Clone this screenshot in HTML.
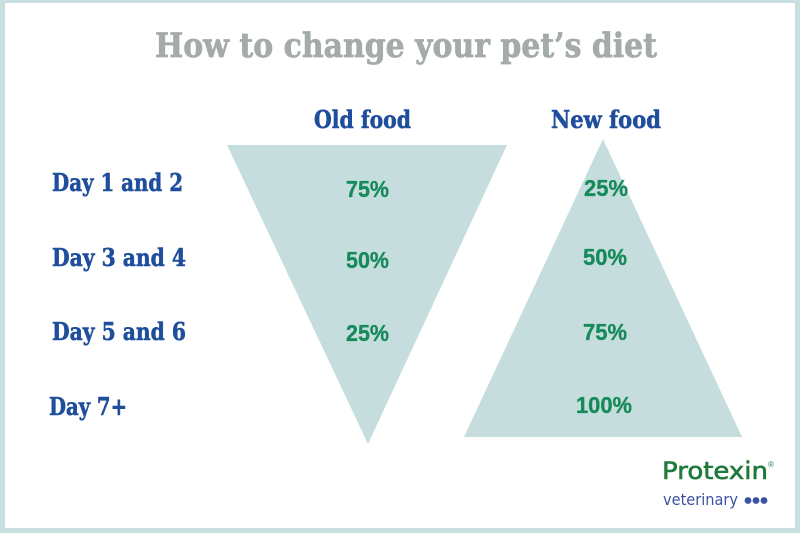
<!DOCTYPE html>
<html><head><meta charset="utf-8"><style>
html,body{margin:0;padding:0;background:#fff;}
svg{display:block;}
</style></head><body>
<svg width="800" height="533" viewBox="0 0 800 533" xmlns="http://www.w3.org/2000/svg">
<rect x="0" y="0" width="800" height="533" fill="#c8dfdf"/>
<rect x="5" y="3" width="790" height="525" fill="#ffffff"/>
<polygon points="227,145 507,145 368,444" fill="#c5dedd"/>
<polygon points="603,139 742,437 464,437" fill="#c5dedd"/>
<g font-family="'DejaVu Serif','Liberation Serif',serif" font-weight="bold">
<text x="155" y="57" font-size="34" fill="#a4abaa" stroke="#a4abaa" stroke-width="0.7" textLength="502" lengthAdjust="spacingAndGlyphs">How to change your pet’s diet</text>
<g fill="#1f4e9c" stroke="#1f4e9c" stroke-width="0.55" font-size="24">
<text x="314" y="128" textLength="97" lengthAdjust="spacingAndGlyphs">Old food</text>
<text x="551" y="128" textLength="110" lengthAdjust="spacingAndGlyphs">New food</text>
<text x="52" y="191" textLength="131" lengthAdjust="spacingAndGlyphs">Day 1 and 2</text>
<text x="52" y="266" textLength="134" lengthAdjust="spacingAndGlyphs">Day 3 and 4</text>
<text x="52" y="340" textLength="134" lengthAdjust="spacingAndGlyphs">Day 5 and 6</text>
<text x="49" y="415" textLength="78" lengthAdjust="spacingAndGlyphs">Day 7+</text>
</g>
</g>
<g font-family="'Liberation Sans',Arial,sans-serif" font-weight="bold" font-size="23" fill="#178a5b" stroke="#178a5b" stroke-width="0.35">
<text x="346" y="197" textLength="43" lengthAdjust="spacingAndGlyphs">75%</text>
<text x="346" y="268" textLength="43" lengthAdjust="spacingAndGlyphs">50%</text>
<text x="346" y="341" textLength="43" lengthAdjust="spacingAndGlyphs">25%</text>
<text x="584" y="196" textLength="44" lengthAdjust="spacingAndGlyphs">25%</text>
<text x="583" y="265" textLength="44" lengthAdjust="spacingAndGlyphs">50%</text>
<text x="583" y="340" textLength="44" lengthAdjust="spacingAndGlyphs">75%</text>
<text x="576" y="413" textLength="56" lengthAdjust="spacingAndGlyphs">100%</text>
</g>
<text x="662" y="479" font-family="'DejaVu Sans','Liberation Sans',sans-serif" font-size="24" fill="#1f7a3c" stroke="#1f7a3c" stroke-width="0.6" textLength="106" lengthAdjust="spacingAndGlyphs">Protexin</text>
<text x="768" y="467" font-family="'Liberation Sans',sans-serif" font-size="8" fill="#1f7a3c">®</text>
<text x="663" y="505" font-family="'DejaVu Sans','Liberation Sans',sans-serif" font-size="16" fill="#3b52a3" textLength="75" lengthAdjust="spacingAndGlyphs">veterinary</text>
<circle cx="748" cy="500.5" r="3.4" fill="#3b52a3"/>
<circle cx="756" cy="500.5" r="3.4" fill="#3b52a3"/>
<circle cx="764" cy="500.5" r="3.4" fill="#3b52a3"/>
</svg>
</body></html>
